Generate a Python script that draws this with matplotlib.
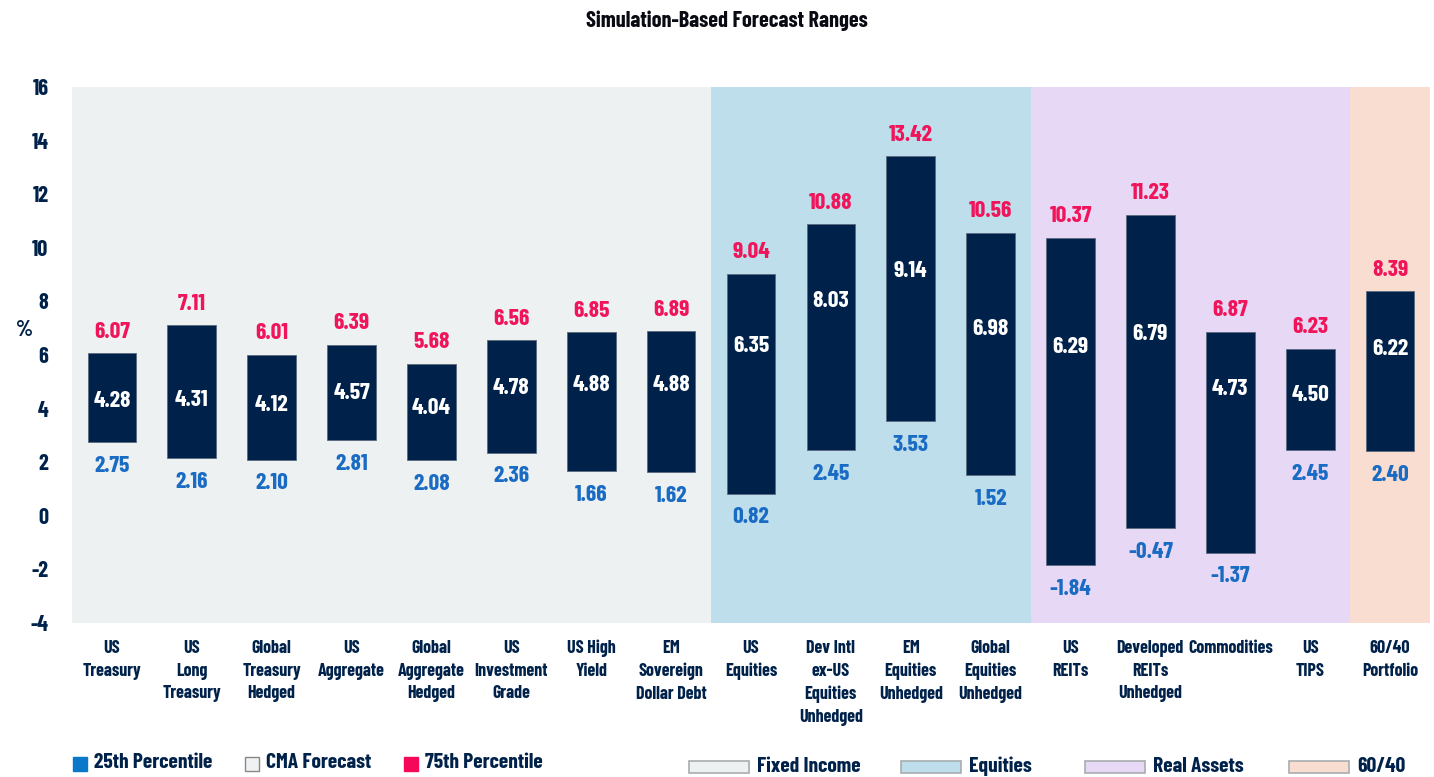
import matplotlib.pyplot as plt
from matplotlib.patches import Rectangle
import numpy as np

# Data
categories = ['US\nTreasury', 'US\nLong\nTreasury', 'Global\nTreasury\nHedged', 'US\nAggregate',
              'Global\nAggregate\nHedged', 'US\nInvestment\nGrade', 'US High\nYield',
              'EM\nSovereign\nDollar Debt', 'US\nEquities', 'Dev Intl\nex-US\nEquities\nUnhedged',
              'EM\nEquities\nUnhedged', 'Global\nEquities\nUnhedged', 'US\nREITs',
              'Developed\nREITs\nUnhedged', 'Commodities', 'US\nTIPS', '60/40\nPortfolio']
p25 = [2.75, 2.16, 2.10, 2.81, 2.08, 2.36, 1.66, 1.62, 0.82, 2.45, 3.53, 1.52, -1.84, -0.47, -1.37, 2.45, 2.40]
cma = [4.28, 4.31, 4.12, 4.57, 4.04, 4.78, 4.88, 4.88, 6.35, 8.03, 9.14, 6.98, 6.29, 6.79, 4.73, 4.50, 6.22]
p75 = [6.07, 7.11, 6.01, 6.39, 5.68, 6.56, 6.85, 6.89, 9.04, 10.88, 13.42, 10.56, 10.37, 11.23, 6.87, 6.23, 8.39]

groups = ['Fixed Income', 'Equities', 'Real Assets', '60/40']
group_sizes = [8, 4, 4, 1]
stat_labels = ['25th Percentile', 'CMA Forecast', '75th Percentile']

navy = '#00224a'
pink = '#f0145a'
blue = '#1a6bc4'
group_colors = ['#edf1f2', '#bddeea', '#e7d9f6', '#f8ddd0']
stat_colors = ['#0a78c8', '#eff1f3', '#f5085a']

plt.rcParams['font.family'] = ['Barlow Condensed', 'DejaVu Sans']
plt.rcParams['font.weight'] = 'bold'
plt.rcParams['axes.unicode_minus'] = False

fig = plt.figure(figsize=(14.34, 7.77), dpi=100)
ax = fig.add_axes([0.0502, 0.1982, 0.947, 0.6898])

x = np.arange(len(categories))

# shaded asset-class bands
start = -0.5
for size, col in zip(group_sizes, group_colors):
    ax.axvspan(start, start + size, color=col, zorder=0, lw=0)
    start += size

lo = np.array(p25)
hi = np.array(p75)
ax.bar(x, hi - lo, bottom=lo, width=0.61, color=navy, edgecolor='#5a6a80', linewidth=0.6, zorder=2)

for i in range(len(x)):
    ax.text(x[i], hi[i] + 0.8, f'{p75[i]:.2f}', ha='center', va='center', color=pink, fontsize=17)
    ax.text(x[i], lo[i] - 0.88, f'{p25[i]:.2f}', ha='center', va='center', color=blue, fontsize=17)
    ax.text(x[i], cma[i], f'{cma[i]:.2f}', ha='center', va='center', color='white', fontsize=17)

ax.set_xlim(-0.5, 16.5)
ax.set_ylim(-4, 16)
ax.set_yticks(np.arange(-4, 17, 2))
ax.set_xticks(x)
ax.set_xticklabels(categories, fontsize=13, color=navy, va='top', linespacing=1.45)
ax.tick_params(axis='y', labelsize=16, colors=navy, length=0, pad=17)
ax.tick_params(axis='x', length=0, pad=12)
for s in ax.spines.values():
    s.set_visible(False)

fig.text(0.011, 0.575, '%', fontsize=16, color=navy, ha='left', va='center')
fig.text(0.507, 0.973, 'Simulation-Based Forecast Ranges', fontsize=16, color='#0a0a14',
         ha='center', va='center')

# legends, drawn by hand
W, H = 1434.0, 777.0
sq_x = [73, 245, 404]
for xs, lab, col in zip(sq_x, stat_labels, stat_colors):
    ec = '#888888' if lab == 'CMA Forecast' else col
    fig.add_artist(Rectangle((xs / W, (H - 771) / H), 14 / W, 14 / H, transform=fig.transFigure,
                             facecolor=col, edgecolor=ec, lw=1))
    fig.text((xs + 21) / W, (H - 763) / H, lab, fontsize=15.5, color=navy, ha='left', va='center')

rect_x = [689, 901, 1085, 1289]
for xs, lab, col in zip(rect_x, groups, group_colors):
    fig.add_artist(Rectangle((xs / W, (H - 773) / H), 60 / W, 12 / H, transform=fig.transFigure,
                             facecolor=col, edgecolor='#a8adb0', lw=1.2))
    fig.text((xs + 68) / W, (H - 766) / H, lab, fontsize=15.5, color=navy, ha='left', va='center')

fig.savefig('out.png', dpi=100)
